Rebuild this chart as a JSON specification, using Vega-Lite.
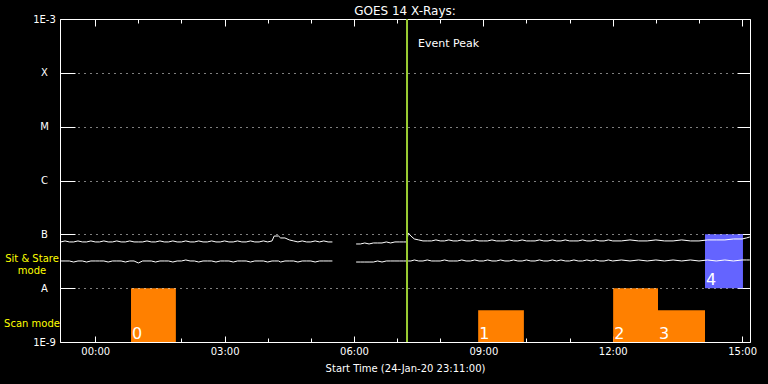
{
"$schema": "https://vega.github.io/schema/vega-lite/v6.json",
"width": 690, "height": 323, "autosize": "none",
"padding": {"left": 60, "top": 19, "right": 18, "bottom": 42},
"background": "black",
"config": {
  "view": {"stroke": "white", "strokeWidth": 1},
  "font": "DejaVu Sans",
  "axis": {"labelColor": "white", "tickColor": "white", "titleColor": "white", "labelFont": "DejaVu Sans", "labelFontSize": 10, "titleFont": "DejaVu Sans", "titleFontSize": 10, "titleFontWeight": "normal", "domain": false, "labelFlush": false, "labelOverlap": false}
},
"title": {"text": "GOES 14 X-Rays:", "color": "white", "fontSize": 12, "fontWeight": "normal", "font": "DejaVu Sans", "offset": -4, "anchor": "middle"},
"datasets": {
  "xr": [
    {"t":-0.8,"L":7.22e-8,"S":3.2e-8,"g":1},{"t":-0.7,"L":7.54e-8,"S":3.2e-8,"g":1},{"t":-0.6,"L":7.22e-8,"S":3.2e-8,"g":1},{"t":-0.5,"L":7.22e-8,"S":3.06e-8,"g":1},
    {"t":-0.4,"L":7.54e-8,"S":3.2e-8,"g":1},{"t":-0.3,"L":7.22e-8,"S":3.2e-8,"g":1},{"t":-0.2,"L":7.22e-8,"S":3.06e-8,"g":1},{"t":-0.1,"L":7.54e-8,"S":3.2e-8,"g":1},
    {"t":0.0,"L":7.22e-8,"S":3.2e-8,"g":1},{"t":0.1,"L":7.22e-8,"S":3.2e-8,"g":1},{"t":0.2,"L":7.54e-8,"S":3.2e-8,"g":1},{"t":0.3,"L":7.22e-8,"S":3.06e-8,"g":1},
    {"t":0.4,"L":7.22e-8,"S":3.2e-8,"g":1},{"t":0.5,"L":7.54e-8,"S":3.2e-8,"g":1},{"t":0.6,"L":7.22e-8,"S":3.2e-8,"g":1},{"t":0.7,"L":7.22e-8,"S":3.06e-8,"g":1},
    {"t":0.8,"L":7.54e-8,"S":3.2e-8,"g":1},{"t":0.9,"L":7.22e-8,"S":3.2e-8,"g":1},{"t":1.0,"L":7.22e-8,"S":2.94e-8,"g":1},{"t":1.1,"L":7.22e-8,"S":3.2e-8,"g":1},
    {"t":1.2,"L":7.54e-8,"S":3.2e-8,"g":1},{"t":1.3,"L":7.22e-8,"S":3.2e-8,"g":1},{"t":1.4,"L":7.22e-8,"S":3.06e-8,"g":1},{"t":1.5,"L":7.54e-8,"S":3.2e-8,"g":1},
    {"t":1.6,"L":7.22e-8,"S":3.2e-8,"g":1},{"t":1.7,"L":7.22e-8,"S":3.2e-8,"g":1},{"t":1.8,"L":7.54e-8,"S":3.06e-8,"g":1},{"t":1.9,"L":7.22e-8,"S":3.2e-8,"g":1},
    {"t":2.0,"L":7.22e-8,"S":3.2e-8,"g":1},{"t":2.1,"L":7.54e-8,"S":3.34e-8,"g":1},{"t":2.2,"L":7.22e-8,"S":3.2e-8,"g":1},{"t":2.3,"L":7.22e-8,"S":3.2e-8,"g":1},
    {"t":2.4,"L":7.54e-8,"S":3.06e-8,"g":1},{"t":2.5,"L":7.22e-8,"S":3.2e-8,"g":1},{"t":2.6,"L":7.22e-8,"S":3.2e-8,"g":1},{"t":2.7,"L":7.54e-8,"S":3.2e-8,"g":1},
    {"t":2.8,"L":7.22e-8,"S":3.06e-8,"g":1},{"t":2.9,"L":7.22e-8,"S":3.2e-8,"g":1},{"t":3.0,"L":7.54e-8,"S":3.2e-8,"g":1},{"t":3.1,"L":7.22e-8,"S":3.2e-8,"g":1},
    {"t":3.2,"L":7.22e-8,"S":3.06e-8,"g":1},{"t":3.3,"L":7.54e-8,"S":3.2e-8,"g":1},{"t":3.4,"L":7.22e-8,"S":3.2e-8,"g":1},{"t":3.5,"L":7.22e-8,"S":3.2e-8,"g":1},
    {"t":3.6,"L":7.54e-8,"S":3.06e-8,"g":1},{"t":3.7,"L":7.22e-8,"S":3.2e-8,"g":1},{"t":3.8,"L":7.22e-8,"S":3.2e-8,"g":1},{"t":3.9,"L":7.54e-8,"S":3.2e-8,"g":1},
    {"t":4.0,"L":7.22e-8,"S":3.06e-8,"g":1},{"t":4.1,"L":7.54e-8,"S":3.2e-8,"g":1},{"t":4.15,"L":9.3e-8,"S":3.2e-8,"g":1},{"t":4.25,"L":9.3e-8,"S":3.2e-8,"g":1},
    {"t":4.3,"L":8.56e-8,"S":3.06e-8,"g":1},{"t":4.4,"L":8.56e-8,"S":3.2e-8,"g":1},{"t":4.5,"L":7.87e-8,"S":3.2e-8,"g":1},{"t":4.6,"L":7.54e-8,"S":3.2e-8,"g":1},
    {"t":4.7,"L":7.22e-8,"S":3.06e-8,"g":1},{"t":4.8,"L":7.54e-8,"S":3.2e-8,"g":1},{"t":4.9,"L":7.22e-8,"S":3.2e-8,"g":1},{"t":5.0,"L":7.22e-8,"S":3.2e-8,"g":1},
    {"t":5.1,"L":7.54e-8,"S":3.06e-8,"g":1},{"t":5.2,"L":7.22e-8,"S":3.2e-8,"g":1},{"t":5.3,"L":7.54e-8,"S":3.2e-8,"g":1},{"t":5.4,"L":7.22e-8,"S":3.2e-8,"g":1},
    {"t":5.5,"L":7.22e-8,"S":3.2e-8,"g":1},
    {"t":6.05,"L":6.62e-8,"S":3.06e-8,"g":2},{"t":6.15,"L":6.62e-8,"S":3.06e-8,"g":2},{"t":6.25,"L":6.91e-8,"S":3.06e-8,"g":2},{"t":6.35,"L":6.62e-8,"S":3.06e-8,"g":2},
    {"t":6.45,"L":6.91e-8,"S":3.06e-8,"g":2},{"t":6.55,"L":6.91e-8,"S":3.2e-8,"g":2},{"t":6.65,"L":6.91e-8,"S":3.06e-8,"g":2},{"t":6.75,"L":7.22e-8,"S":3.2e-8,"g":2},
    {"t":6.85,"L":6.91e-8,"S":3.2e-8,"g":2},{"t":6.95,"L":7.22e-8,"S":3.2e-8,"g":2},{"t":7.05,"L":7.22e-8,"S":3.2e-8,"g":2},{"t":7.15,"L":7.22e-8,"S":3.2e-8,"g":2},
    {"t":7.22,"L":7.22e-8,"S":3.2e-8,"g":2},{"t":7.26,"L":1.06e-7,"S":3.2e-8,"g":2},{"t":7.32,"L":9.3e-8,"S":3.2e-8,"g":2},{"t":7.4,"L":8.2e-8,"S":3.34e-8,"g":2},
    {"t":7.5,"L":7.87e-8,"S":3.2e-8,"g":2},{"t":7.6,"L":7.54e-8,"S":3.2e-8,"g":2},{"t":7.7,"L":7.54e-8,"S":3.34e-8,"g":2},{"t":7.8,"L":7.54e-8,"S":3.2e-8,"g":2},
    {"t":7.9,"L":7.87e-8,"S":3.2e-8,"g":2},{"t":8.0,"L":7.54e-8,"S":3.2e-8,"g":2},{"t":8.1,"L":7.54e-8,"S":3.34e-8,"g":2},{"t":8.2,"L":7.87e-8,"S":3.2e-8,"g":2},
    {"t":8.3,"L":7.54e-8,"S":3.2e-8,"g":2},{"t":8.4,"L":7.54e-8,"S":3.2e-8,"g":2},{"t":8.5,"L":7.87e-8,"S":3.34e-8,"g":2},{"t":8.6,"L":7.54e-8,"S":3.2e-8,"g":2},
    {"t":8.7,"L":7.54e-8,"S":3.2e-8,"g":2},{"t":8.8,"L":7.87e-8,"S":3.34e-8,"g":2},{"t":8.9,"L":7.54e-8,"S":3.2e-8,"g":2},{"t":9.0,"L":7.54e-8,"S":3.2e-8,"g":2},
    {"t":9.1,"L":7.54e-8,"S":3.34e-8,"g":2},{"t":9.2,"L":7.87e-8,"S":3.2e-8,"g":2},{"t":9.3,"L":7.54e-8,"S":3.2e-8,"g":2},{"t":9.4,"L":7.54e-8,"S":3.34e-8,"g":2},
    {"t":9.5,"L":7.54e-8,"S":3.2e-8,"g":2},{"t":9.6,"L":7.87e-8,"S":3.2e-8,"g":2},{"t":9.7,"L":7.54e-8,"S":3.34e-8,"g":2},{"t":9.8,"L":7.54e-8,"S":3.2e-8,"g":2},
    {"t":9.9,"L":7.87e-8,"S":3.2e-8,"g":2},{"t":10.0,"L":7.54e-8,"S":3.34e-8,"g":2},{"t":10.1,"L":7.54e-8,"S":3.2e-8,"g":2},{"t":10.2,"L":7.54e-8,"S":3.2e-8,"g":2},
    {"t":10.3,"L":7.87e-8,"S":3.34e-8,"g":2},{"t":10.4,"L":7.54e-8,"S":3.2e-8,"g":2},{"t":10.5,"L":7.54e-8,"S":3.2e-8,"g":2},{"t":10.6,"L":7.87e-8,"S":3.34e-8,"g":2},
    {"t":10.7,"L":7.54e-8,"S":3.2e-8,"g":2},{"t":10.8,"L":7.54e-8,"S":3.34e-8,"g":2},{"t":10.9,"L":7.87e-8,"S":3.2e-8,"g":2},{"t":11.0,"L":7.54e-8,"S":3.2e-8,"g":2},
    {"t":11.1,"L":7.54e-8,"S":3.34e-8,"g":2},{"t":11.2,"L":7.54e-8,"S":3.2e-8,"g":2},{"t":11.3,"L":7.87e-8,"S":3.2e-8,"g":2},{"t":11.4,"L":7.54e-8,"S":3.34e-8,"g":2},
    {"t":11.5,"L":7.54e-8,"S":3.2e-8,"g":2},{"t":11.6,"L":7.87e-8,"S":3.34e-8,"g":2},{"t":11.7,"L":7.54e-8,"S":3.2e-8,"g":2},{"t":11.8,"L":7.54e-8,"S":3.2e-8,"g":2},
    {"t":11.9,"L":7.87e-8,"S":3.34e-8,"g":2},{"t":12.0,"L":7.54e-8,"S":3.2e-8,"g":2},{"t":12.2,"L":7.54e-8,"S":3.34e-8,"g":2},{"t":12.4,"L":7.87e-8,"S":3.2e-8,"g":2},
    {"t":12.6,"L":7.54e-8,"S":3.34e-8,"g":2},{"t":12.8,"L":7.54e-8,"S":3.2e-8,"g":2},{"t":13.0,"L":7.87e-8,"S":3.34e-8,"g":2},{"t":13.2,"L":7.54e-8,"S":3.2e-8,"g":2},
    {"t":13.4,"L":7.54e-8,"S":3.34e-8,"g":2},{"t":13.6,"L":7.87e-8,"S":3.2e-8,"g":2},{"t":13.8,"L":7.54e-8,"S":3.34e-8,"g":2},{"t":14.0,"L":7.54e-8,"S":3.2e-8,"g":2},
    {"t":14.2,"L":7.87e-8,"S":3.34e-8,"g":2},{"t":14.4,"L":7.87e-8,"S":3.2e-8,"g":2},{"t":14.6,"L":7.87e-8,"S":3.34e-8,"g":2},{"t":14.8,"L":8.2e-8,"S":3.2e-8,"g":2},
    {"t":15.0,"L":8.2e-8,"S":3.34e-8,"g":2},{"t":15.1,"L":8.56e-8,"S":3.34e-8,"g":2},{"t":15.18,"L":8.93e-8,"S":3.34e-8,"g":2}
  ],
  "bars": [
    {"n":"0","t0":0.83,"t1":1.87,"lo":1e-9,"hi":1e-8,"mode":"scan"},
    {"n":"1","t0":8.88,"t1":9.94,"lo":1e-9,"hi":3.9e-9,"mode":"scan"},
    {"n":"2","t0":12.01,"t1":13.05,"lo":1e-9,"hi":1e-8,"mode":"scan"},
    {"n":"3","t0":13.05,"t1":14.14,"lo":1e-9,"hi":3.9e-9,"mode":"scan"},
    {"n":"4","t0":14.14,"t1":15.02,"lo":1e-8,"hi":1e-7,"mode":"sit"}
  ],
  "peak": [{"t":7.23,"label":"Event Peak"}],
  "modes": [{"label":["Sit & Stare","mode"],"v":3.06e-8},{"label":["Scan mode"],"v":1.9e-9}]
},
"layer": [
  {
    "data": {"name": "bars"},
    "mark": {"type": "rect"},
    "encoding": {
      "x": {"field": "t0", "type": "quantitative", "scale": {"domain": [-0.8167, 15.1833], "nice": false, "zero": false},
            "axis": {"orient": "top", "values": [0,1,2,3,4,5,6,7,8,9,10,11,12,13,14,15], "labels": false, "grid": false, "title": null,
                     "tickSize": {"condition": {"test": "datum.value % 3 == 0", "value": -7}, "value": -4}}},
      "x2": {"field": "t1"},
      "y": {"field": "lo", "type": "quantitative", "scale": {"type": "log", "domain": [1e-9, 1e-3], "nice": false},
            "axis": {"orient": "right", "values": [1e-9,1e-8,1e-7,1e-6,1e-5,1e-4,1e-3], "labels": false, "grid": false, "title": null, "tickSize": -13}},
      "y2": {"field": "hi"},
      "color": {"field": "mode", "type": "nominal", "scale": {"domain": ["scan", "sit"], "range": ["#FF8000", "#6464FF"]}, "legend": null}
    }
  },
  {
    "data": {"name": "xr"},
    "transform": [{"fold": ["L", "S"], "as": ["ch", "v"]}],
    "mark": {"type": "line", "color": "white", "strokeWidth": 1},
    "encoding": {
      "x": {"field": "t", "type": "quantitative", "scale": {"domain": [-0.8167, 15.1833], "nice": false, "zero": false},
            "axis": {"orient": "bottom", "values": [0,1,2,3,4,5,6,7,8,9,10,11,12,13,14,15], "grid": false,
                     "labelExpr": "datum.value % 3 == 0 ? utcFormat(datum.value * 3600000, '%H:%M') : ''",
                     "tickSize": {"condition": {"test": "datum.value % 3 == 0", "value": -6}, "value": -4},
                     "labelPadding": 10, "title": "Start Time (24-Jan-20 23:11:00)", "titlePadding": 5}},
      "y": {"field": "v", "type": "quantitative", "scale": {"type": "log", "domain": [1e-9, 1e-3], "nice": false},
            "axis": {"orient": "left", "values": [1e-9,1e-8,1e-7,1e-6,1e-5,1e-4,1e-3], "title": null,
                     "labelExpr": "['1E-9','A','B','C','M','X','1E-3'][round(log(datum.value) / LN10) + 9]",
                     "labelAlign": "center",
                     "tickSize": -15, "labelPadding": 31, "grid": true, "gridColor": "white", "gridDash": [1, 5], "gridOpacity": 1, "zindex": 1}},
      "detail": [{"field": "ch"}, {"field": "g"}]
    }
  },
  {
    "data": {"name": "peak"},
    "mark": {"type": "rule", "color": "#9ACD32", "strokeWidth": 2},
    "encoding": {"x": {"field": "t", "type": "quantitative", "axis": null}}
  },
  {
    "data": {"name": "peak"},
    "mark": {"type": "text", "color": "white", "fontSize": 11, "align": "left", "baseline": "alphabetic", "dx": 11},
    "encoding": {
      "x": {"field": "t", "type": "quantitative", "axis": null},
      "y": {"datum": 3e-4, "axis": null},
      "text": {"field": "label"}
    }
  },
  {
    "data": {"name": "bars"},
    "mark": {"type": "text", "color": "white", "fontSize": 16, "align": "left", "baseline": "alphabetic", "dx": 1, "dy": -3},
    "encoding": {
      "x": {"field": "t0", "type": "quantitative", "axis": null},
      "y": {"field": "lo", "type": "quantitative", "axis": null},
      "text": {"field": "n"}
    }
  },
  {
    "data": {"name": "modes"},
    "mark": {"type": "text", "color": "#FFFF00", "fontSize": 10, "align": "center", "baseline": "alphabetic", "dx": -28, "lineHeight": 12},
    "encoding": {
      "x": {"datum": -0.8167, "axis": null},
      "y": {"field": "v", "type": "quantitative", "axis": null},
      "text": {"field": "label"}
    }
  }
],
"resolve": {"axis": {"x": "independent", "y": "independent"}}
}
